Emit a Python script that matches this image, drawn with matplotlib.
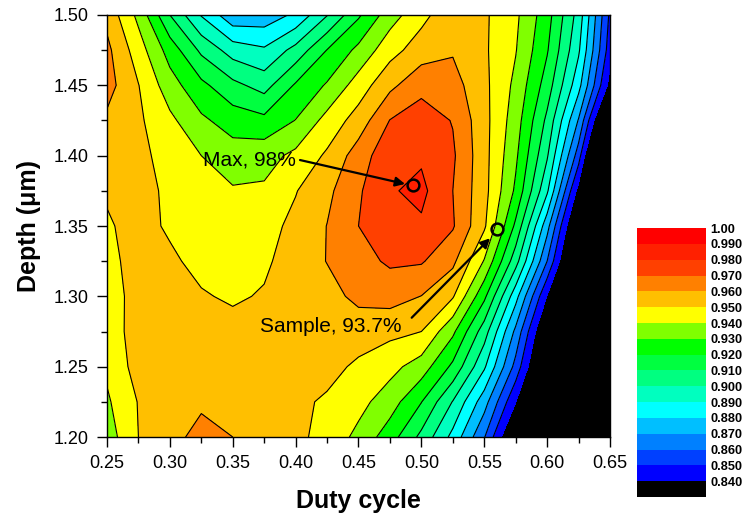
import numpy as np
import matplotlib.pyplot as plt
from matplotlib.ticker import MultipleLocator, FormatStrFormatter

plt.rcParams['font.family'] = ['Liberation Sans', 'DejaVu Sans']

# grid
duty = [0.25, 0.275, 0.30, 0.325, 0.35, 0.375, 0.40, 0.425, 0.45,
        0.475, 0.50, 0.525, 0.55, 0.575, 0.60, 0.625, 0.65]
depth = [1.20, 1.225, 1.25, 1.275, 1.30, 1.325, 1.35, 1.375, 1.40,
         1.425, 1.45, 1.475, 1.50]

# efficiency, one row per depth (bottom row first)
eff = [
    [0.935, 0.950, 0.958, 0.962, 0.960, 0.955, 0.9525, 0.9464, 0.9374, 0.9246, 0.9074, 0.887, 0.8607, 0.823, 0.78, 0.71, 0.62],      # 1.200
    [0.9385, 0.9505, 0.956, 0.959, 0.957, 0.955, 0.952, 0.9487, 0.9432, 0.9348, 0.9203, 0.8995, 0.8743, 0.8404, 0.80, 0.73, 0.64],   # 1.225
    [0.942, 0.954, 0.956, 0.957, 0.956, 0.955, 0.9545, 0.953, 0.9483, 0.9432, 0.9353, 0.9178, 0.8915, 0.8566, 0.815, 0.75, 0.66],    # 1.250
    [0.944, 0.955, 0.956, 0.956, 0.953, 0.9545, 0.955, 0.955, 0.9545, 0.9525, 0.950, 0.9321, 0.9047, 0.8676, 0.824, 0.77, 0.68],     # 1.275
    [0.945, 0.954, 0.955, 0.9508, 0.9488, 0.9508, 0.954, 0.9565, 0.9625, 0.964, 0.9598, 0.951, 0.9223, 0.8837, 0.8395, 0.79, 0.70],  # 1.300
    [0.947, 0.954, 0.9515, 0.9475, 0.946, 0.9485, 0.9542, 0.9603, 0.9665, 0.9715, 0.971, 0.9623, 0.9393, 0.9041, 0.86, 0.81, 0.72],  # 1.325
    [0.949, 0.953, 0.9488, 0.9465, 0.945, 0.9465, 0.9525, 0.9602, 0.970, 0.977, 0.9785, 0.971, 0.9516, 0.9179, 0.8737, 0.82, 0.74],  # 1.350
    [0.951, 0.9525, 0.9486, 0.945, 0.941, 0.9415, 0.9495, 0.9576, 0.9687, 0.979, 0.9825, 0.970, 0.9534, 0.9282, 0.8916, 0.836, 0.76],  # 1.375
    [0.953, 0.9525, 0.9464, 0.940, 0.9347, 0.9362, 0.9424, 0.9516, 0.9649, 0.977, 0.9785, 0.9715, 0.9534, 0.9319, 0.9011, 0.8548, 0.78],  # 1.400
    [0.958, 0.9517, 0.9423, 0.9319, 0.9255, 0.9228, 0.9303, 0.9435, 0.9544, 0.9703, 0.975, 0.9695, 0.9533, 0.9348, 0.9077, 0.8692, 0.81],  # 1.425
    [0.964, 0.9503, 0.9344, 0.9225, 0.9128, 0.906, 0.9213, 0.9311, 0.9447, 0.9576, 0.967, 0.964, 0.9525, 0.9376, 0.9153, 0.8834, 0.836],   # 1.450
    [0.9625, 0.9448, 0.9258, 0.9079, 0.8955, 0.8915, 0.9034, 0.9203, 0.9326, 0.9463, 0.955, 0.959, 0.9515, 0.9405, 0.9209, 0.8915, 0.8445], # 1.475
    [0.957, 0.9374, 0.910, 0.8893, 0.873, 0.874, 0.882, 0.8995, 0.9185, 0.9355, 0.947, 0.957, 0.9515, 0.942, 0.9242, 0.896, 0.848],        # 1.500
]

# marked points
max_pt = (0.4933, 1.3789)
sample_pt = (0.5605, 1.3482)

levels = [0.60] + [round(0.84 + 0.01 * i, 2) for i in range(17)]
band_colors = ['#000000', '#0000FF', '#0040FF', '#0080FF', '#00BFFF', '#00FFFF',
               '#00FFBF', '#00FF80', '#00FF40', '#00FF00', '#80FF00', '#FFFF00',
               '#FFBF00', '#FF8000', '#FF4000', '#FF2000', '#FF0000']
cb_labels = ['0.840', '0.850', '0.860', '0.870', '0.880', '0.890', '0.900', '0.910',
             '0.920', '0.930', '0.940', '0.950', '0.960', '0.970', '0.980', '0.990', '1.00']

fig = plt.figure(figsize=(7.43, 5.17), dpi=100)
ax = fig.add_axes([0.144, 0.1547, 0.677, 0.8163])

cf = ax.contourf(duty, depth, eff, levels=levels, colors=band_colors)
ax.contour(duty, depth, eff, levels=levels[2:-1], colors='black', linewidths=0.8)

ax.set_xlim(0.25, 0.65)
ax.set_ylim(1.20, 1.50)
ax.xaxis.set_major_locator(MultipleLocator(0.05))
ax.xaxis.set_minor_locator(MultipleLocator(0.025))
ax.yaxis.set_major_locator(MultipleLocator(0.05))
ax.yaxis.set_minor_locator(MultipleLocator(0.025))
ax.xaxis.set_major_formatter(FormatStrFormatter('%.2f'))
ax.yaxis.set_major_formatter(FormatStrFormatter('%.2f'))
ax.tick_params(which='both', direction='out', top=False, right=False,
               labelsize=13, width=1)
ax.tick_params(which='major', length=7, pad=6)
ax.tick_params(which='minor', length=4)
for sp in ax.spines.values():
    sp.set_linewidth(1.0)

ax.set_xlabel('Duty cycle', fontsize=18, fontweight='bold', labelpad=12)
ax.set_ylabel('Depth (\u03bcm)', fontsize=18, fontweight='bold', labelpad=9)

# markers and annotations
ax.plot(*max_pt, 'o', mfc='none', mec='black', ms=8.5, mew=1.8)
ax.plot(*sample_pt, 'o', mfc='none', mec='black', ms=8.5, mew=1.8)
arrow = dict(arrowstyle='-|>', color='black', lw=1.6, mutation_scale=14,
             shrinkA=0, shrinkB=0)
ax.annotate('', xy=(0.487, 1.3799), xytext=(0.4035, 1.3969), arrowprops=arrow)
ax.annotate('', xy=(0.5546, 1.3413), xytext=(0.4923, 1.2848), arrowprops=arrow)
ax.text(0.3263, 1.3969, 'Max, 98%', fontsize=15, va='center', ha='left')
ax.text(0.3717, 1.2786, 'Sample, 93.7%', fontsize=15, va='center', ha='left')

# colour bar
cax = fig.add_axes([0.857, 0.0387, 0.093, 0.520])
cb = fig.colorbar(cf, cax=cax, ticks=levels[1:], spacing='uniform')
cb.outline.set_visible(False)
cb.ax.set_yticklabels(cb_labels)
cb.ax.tick_params(length=0, pad=3, labelsize=9.2)
for t in cb.ax.get_yticklabels():
    t.set_fontweight('bold')

fig.savefig('out.png', dpi=100)
